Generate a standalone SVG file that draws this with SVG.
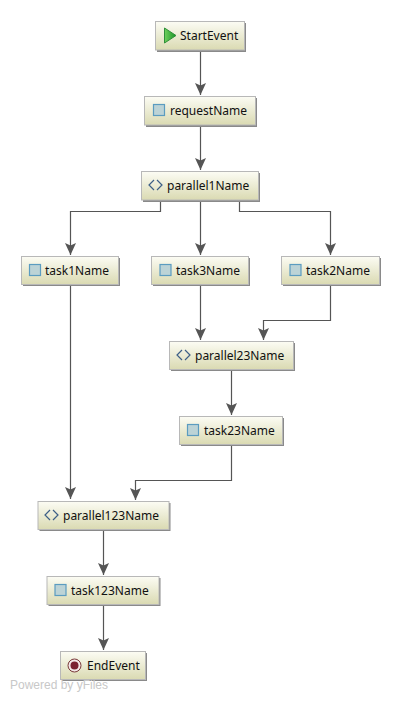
<svg xmlns="http://www.w3.org/2000/svg" width="400" height="701" viewBox="0 0 400 701">
<style>
text{font-family:"Noto Sans","DejaVu Sans",sans-serif;font-size:12px;fill:#111}
.n{fill:url(#g);stroke:#b8b8b8;stroke-width:1}
.s{fill:#8a8a8a}
.c{fill:none;stroke:#555;stroke-width:1.2;marker-end:url(#a)}
.t{fill:#bcd3d6;stroke:#5b9cc0;stroke-width:1.2}
.p{fill:none;stroke:#3d5f86;stroke-width:1.2}
.w{font-family:"Liberation Sans",sans-serif;fill:#c8c8c8}
</style>
<defs>
<linearGradient id="g" x1="0" y1="0" x2="0" y2="1"><stop offset="0" stop-color="#fcfcf4"/><stop offset="1" stop-color="#dadab2"/></linearGradient>
<linearGradient id="sg" x1="0" y1="0" x2="1" y2="0"><stop offset="0" stop-color="#6fd05c"/><stop offset="1" stop-color="#1a9428"/></linearGradient>
<marker id="a" markerUnits="userSpaceOnUse" markerWidth="12" markerHeight="11" refX="12" refY="5.500" orient="auto" viewBox="0 0 12 11"><path d="M0 0L12 5.500L0 11L2.500 5.500Z" fill="#555"/></marker>
</defs>
<g id="connectors">
<path class="c" d="M200.500 51V95"/>
<path class="c" d="M200.500 126V170"/>
<path class="c" d="M160.500 201V211.500H70.500V255"/>
<path class="c" d="M200.500 201V255"/>
<path class="c" d="M239.500 201V211.500H330.500V255"/>
<path class="c" d="M70.500 286V499"/>
<path class="c" d="M200.500 286V340"/>
<path class="c" d="M330.500 286V320.500H263.500V340"/>
<path class="c" d="M231.500 371V415"/>
<path class="c" d="M231.500 446V480.500H135.500V500"/>
<path class="c" d="M103.500 531V575"/>
<path class="c" d="M103.500 606V650"/>
</g>
<g id="StartEvent"><rect class="s" x="157" y="23" width="89" height="29"/><rect class="n" x="155.500" y="21.500" width="89" height="28.500"/><path d="M164.500 28V43L176 35.500Z" fill="url(#sg)" stroke="#2f8f3a"/><text x="180" y="40">StartEvent</text></g>
<g id="requestName"><rect class="s" x="146" y="98" width="111" height="29"/><rect class="n" x="144.500" y="96.500" width="111" height="28.500"/><rect class="t" x="153.500" y="104.500" width="11" height="11"/><text x="170" y="115">requestName</text></g>
<g id="parallel1Name"><rect class="s" x="143" y="173" width="117" height="29"/><rect class="n" x="141.500" y="171.500" width="117" height="28.500"/><path class="p" d="M154 180L149 185L154 190M157 180L162 185L157 190"/><text x="167" y="190">parallel1Name</text></g>
<g id="task1Name"><rect class="s" x="23" y="258" width="97" height="28"/><rect class="n" x="21.500" y="256.500" width="97" height="28"/><rect class="t" x="29.500" y="264.500" width="11" height="11"/><text x="45" y="275">task1Name</text></g>
<g id="task3Name"><rect class="s" x="153" y="258" width="97" height="28"/><rect class="n" x="151.500" y="256.500" width="97" height="28"/><rect class="t" x="160" y="264.500" width="11" height="11"/><text x="176" y="275">task3Name</text></g>
<g id="task2Name"><rect class="s" x="283" y="258" width="98" height="28"/><rect class="n" x="281.500" y="256.500" width="98" height="28"/><rect class="t" x="290" y="264.500" width="11" height="11"/><text x="306" y="275">task2Name</text></g>
<g id="parallel23Name"><rect class="s" x="171" y="343" width="124" height="28"/><rect class="n" x="169.500" y="341.500" width="124" height="28"/><path class="p" d="M182 350L177 355L182 360M185 350L190 355L185 360"/><text x="195" y="360">parallel23Name</text></g>
<g id="task23Name"><rect class="s" x="181" y="418" width="103" height="28"/><rect class="n" x="179.500" y="416.500" width="103" height="28"/><rect class="t" x="187.500" y="424.500" width="11" height="11"/><text x="204" y="435">task23Name</text></g>
<g id="parallel123Name"><rect class="s" x="39.500" y="503" width="131" height="28"/><rect class="n" x="38" y="501.500" width="131" height="28"/><path class="p" d="M50 510L45 515L50 520M53 510L58 515L53 520"/><text x="63" y="520">parallel123Name</text></g>
<g id="task123Name"><rect class="s" x="48.500" y="578" width="112" height="28"/><rect class="n" x="47" y="576.500" width="112" height="28"/><rect class="t" x="55" y="584.500" width="11" height="11"/><text x="71" y="595">task123Name</text></g>
<g id="EndEvent"><rect class="s" x="62" y="653" width="85" height="28"/><rect class="n" x="60.500" y="651.500" width="85" height="28"/><circle cx="74.500" cy="665.500" r="6.500" fill="#f3e8e8" stroke="#7a3a3a"/><circle cx="74.500" cy="665.500" r="4" fill="#7a2030"/><text x="87" y="670">EndEvent</text></g>
<text class="w" x="10" y="689">Powered by yFiles</text>
</svg>
